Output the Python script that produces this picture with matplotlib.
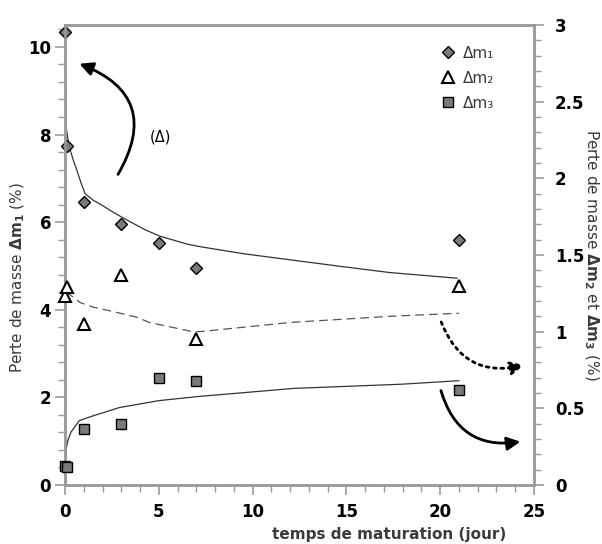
import matplotlib.pyplot as plt
from matplotlib.ticker import MultipleLocator, FormatStrFormatter

plt.rcParams['font.family'] = ['DejaVu Sans']
plt.rcParams['mathtext.fontset'] = 'dejavusans'

# Points mesures (jour)
jours_1 = [0, 0.08, 1, 3, 5, 7, 21]
dm1 = [10.35, 7.73, 6.45, 5.96, 5.52, 4.95, 5.6]

jours_2 = [0, 0.08, 1, 3, 7, 21]
dm2 = [1.23, 1.29, 1.05, 1.37, 0.955, 1.30]

jours_3 = [0, 0.08, 1, 3, 5, 7, 21]
dm3 = [0.126, 0.12, 0.364, 0.40, 0.70, 0.68, 0.62]

# Courbes de tendance
fit1_x = [0.005, 0.05, 0.15, 0.27, 0.45, 0.62, 0.85, 1.07, 1.5, 2.0, 2.4, 3.0, 3.6, 4.3,
          5.06, 6.5, 7.2, 9.5, 12.0, 14.7, 17.3, 20.9]
fit1_y = [9.75, 8.2, 7.9, 7.66, 7.4, 7.2, 6.9, 6.65, 6.5, 6.38, 6.27, 6.12, 5.98, 5.82,
          5.68, 5.5, 5.44, 5.28, 5.14, 4.99, 4.85, 4.72]

fit2_x = [0.05, 0.27, 0.8, 1.5, 2.6, 3.8, 4.5, 6.8, 7.2, 12.0, 17.3, 21.0]
fit2_y = [1.26, 1.24, 1.19, 1.16, 1.13, 1.095, 1.06, 1.0, 1.0, 1.06, 1.10, 1.12]

fit3_x = [0.0, 0.05, 0.15, 0.32, 0.76, 1.47, 2.9, 5.0, 7.1, 12.2, 17.9, 21.0]
fit3_y = [0.126, 0.23, 0.29, 0.345, 0.42, 0.45, 0.505, 0.55, 0.577, 0.63, 0.657, 0.68]

grey = '#9a9a9a'
txt = '#3a3a3a'

fig = plt.figure(figsize=(6.02, 5.44), dpi=100)
ax = fig.add_axes([0.108, 0.1085, 0.779, 0.8455])
ax2 = ax.twinx()

ax.plot(fit1_x, fit1_y, '-', color='#333333', lw=0.9)
ax2.plot(fit2_x, fit2_y, '--', color='#555555', lw=0.9, dashes=(7, 4))
ax2.plot(fit3_x, fit3_y, '-', color='#333333', lw=0.9)

h1, = ax.plot(jours_1, dm1, 'D', ms=6.2, mfc='#7a7a7a', mec='black', mew=1,
              label='Δm₁', clip_on=False, zorder=5)
h2, = ax2.plot(jours_2, dm2, '^', ms=8.5, mfc='white', mec='black', mew=1.5,
               label='Δm₂', clip_on=False, zorder=5)
h3, = ax2.plot(jours_3, dm3, 's', ms=7, mfc='#7a7a7a', mec='black', mew=1,
               label='Δm₃', clip_on=False, zorder=5)

ax.set_xlim(0, 25)
ax.set_ylim(0, 10.5)
ax2.set_ylim(0, 3)

ax.xaxis.set_major_locator(MultipleLocator(5))
ax.xaxis.set_minor_locator(MultipleLocator(1))
ax.yaxis.set_major_locator(MultipleLocator(2))
ax.yaxis.set_minor_locator(MultipleLocator(0.4))
ax2.yaxis.set_major_locator(MultipleLocator(0.5))
ax2.yaxis.set_minor_locator(MultipleLocator(0.1))
ax2.yaxis.set_major_formatter(FormatStrFormatter('%g'))

for a in (ax, ax2):
    for s in a.spines.values():
        s.set_color(grey)
        s.set_linewidth(1.8)
    a.tick_params(which='major', length=7, width=1.2, color=grey, labelsize=12)
    a.tick_params(which='minor', length=5, width=1, color=grey)
    for lab in a.get_xticklabels() + a.get_yticklabels():
        lab.set_fontweight('bold')
ax.tick_params(axis='y', pad=3)
ax.tick_params(axis='x', pad=6)
ax2.tick_params(axis='y', pad=8)

fig.text(18 / 602, 1 - 278 / 544, r'Perte de masse $\mathbf{\Delta m_1}$ (%)',
         rotation=90, ha='center', va='center', fontsize=11, color=txt)
fig.text(591 / 602, 1 - 255 / 544, r'Perte de masse $\mathbf{\Delta m_2}$ et $\mathbf{\Delta m_3}$ (%)',
         rotation=270, ha='center', va='center', fontsize=11, color=txt)
fig.text(389 / 602, 1 - 535 / 544, 'temps de maturation (jour)', ha='center', va='center',
         fontsize=11, fontweight='bold', color=txt)

ax2.text(0.2026, 0.7565, '(Δ)', transform=ax.transAxes, ha='center', va='center',
         fontsize=10.5, color='black')

arr = dict(arrowstyle='-|>,head_length=0.8,head_width=0.4', color='black', lw=2)
ax2.annotate('', xy=(0.025, 0.918), xytext=(0.110, 0.670), xycoords='axes fraction',
             arrowprops=dict(arr, connectionstyle='arc3,rad=0.6'))
ax2.annotate('', xy=(0.984, 0.262), xytext=(0.800, 0.360), xycoords='axes fraction',
             arrowprops=dict(arr, connectionstyle='arc3,rad=0.45', linestyle=':'))
ax2.annotate('', xy=(0.977, 0.095), xytext=(0.800, 0.211), xycoords='axes fraction',
             arrowprops=dict(arr, connectionstyle='arc3,rad=0.45'))

leg = ax2.legend(handles=[h1, h2, h3], loc='upper right', bbox_to_anchor=(0.945, 0.985),
                 frameon=False, fontsize=11, handletextpad=0.4, labelspacing=0.65,
                 handlelength=1.2)
for t in leg.get_texts():
    t.set_color(txt)

fig.savefig('out.png', dpi=100)
